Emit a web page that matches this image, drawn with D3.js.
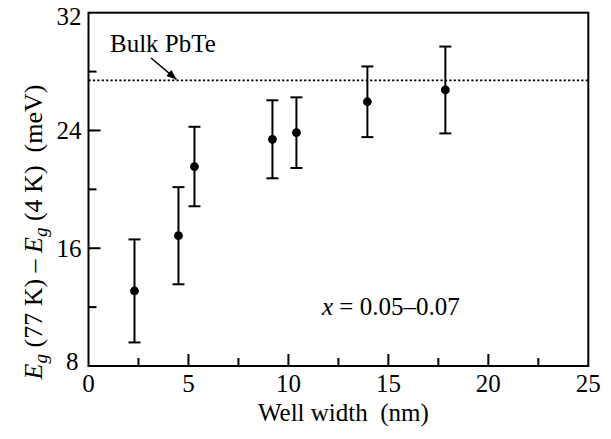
<!DOCTYPE html>
<html>
<head>
<meta charset="UTF-8">
<script src="https://cdn.jsdelivr.net/npm/d3@7/dist/d3.min.js"></script>
<style>
body{
  margin:0;
  background-color:#fff;
}
</style>
</head>
<body>
<script>
// well width (nm) vs Eg(77K) - Eg(4K) (meV), with error bars
var wellWidth = [2.3, 4.5, 5.3, 9.2, 10.4, 13.95, 17.85]
var gapShift  = [13.1, 16.85, 21.55, 23.4, 23.85, 25.95, 26.75]
var gapErr    = [3.5, 3.3, 2.7, 2.65, 2.4, 2.4, 2.95]

var bulkPbTe = 27.4

var xTicks = [0, 5, 10, 15, 20, 25]
var xMinor = [2.5, 7.5, 12.5, 17.5, 22.5]
var yTicks = [8, 16, 24, 32]
var yMinor = [12, 20, 28]

var width = 611
var height = 439
var margin = {left: 88.5, right: 22.7, top: 12.7, bottom: 73}

// pick a Times-like face that is really installed
var ctx = document.createElement('canvas').getContext('2d')
function hasFont(name){
  var s = 'Bulk PbTe 0123456789 mwWi'
  ctx.font = '40px monospace'
  var a = ctx.measureText(s).width
  ctx.font = '40px "' + name + '", monospace'
  return ctx.measureText(s).width != a
}
var candidates = ['Liberation Serif', 'Tinos', 'Times New Roman', 'Nimbus Roman', 'FreeSerif', 'Noto Serif', 'DejaVu Serif']
var serifName = candidates.find(hasFont) || 'DejaVu Serif'
var serif = '"' + serifName + '", serif'

var x = d3.scaleLinear().domain([0, 25]).range([margin.left, width - margin.right])
var y = d3.scaleLinear().domain([8, 32]).range([height - margin.bottom, margin.top])

var svg = d3.select('body')
    .append('svg')
    .attr('width', width)
    .attr('height', height)
    .attr('font-family', serif)

svg.append('defs').append('marker')
    .attr('id', 'arrow')
    .attr('viewBox', '0 0 10 10')
    .attr('refX', 10)
    .attr('refY', 5)
    .attr('markerWidth', 10)
    .attr('markerHeight', 10)
    .attr('markerUnits', 'userSpaceOnUse')
    .attr('orient', 'auto')
  .append('path')
    .attr('d', 'M0,1 L10,5 L0,9 Z')
    .attr('fill', '#000')

// bulk line
svg.append('line')
    .attr('x1', x(0))
    .attr('x2', x(25))
    .attr('y1', y(bulkPbTe))
    .attr('y2', y(bulkPbTe))
    .attr('stroke', '#000')
    .attr('stroke-width', 1.8)
    .attr('stroke-dasharray', '2.2,2.2')

// inward ticks
svg.selectAll('.xt')
  .data(xTicks.slice(1, -1).map(d => [d, 12]).concat(xMinor.map(d => [d, 8])))
  .enter().append('line')
    .attr('x1', d => x(d[0]))
    .attr('x2', d => x(d[0]))
    .attr('y1', y(8))
    .attr('y2', d => y(8) - d[1])
    .attr('stroke', '#000')
    .attr('stroke-width', 2)

svg.selectAll('.yt')
  .data(yTicks.slice(1, -1).map(d => [d, 12]).concat(yMinor.map(d => [d, 8])))
  .enter().append('line')
    .attr('x1', x(0))
    .attr('x2', d => x(0) + d[1])
    .attr('y1', d => y(d[0]))
    .attr('y2', d => y(d[0]))
    .attr('stroke', '#000')
    .attr('stroke-width', 2)

// frame
svg.append('rect')
    .attr('x', x(0))
    .attr('y', y(32))
    .attr('width', x(25) - x(0))
    .attr('height', y(8) - y(32))
    .attr('fill', 'none')
    .attr('stroke', '#000')
    .attr('stroke-width', 2)

// tick labels
svg.selectAll('.xl')
  .data(xTicks)
  .enter().append('text')
    .attr('x', d => x(d))
    .attr('y', y(8) + 26)
    .attr('text-anchor', 'middle')
    .attr('font-size', 25)
    .text(d => d)

svg.selectAll('.yl')
  .data(yTicks)
  .enter().append('text')
    .attr('x', d => d == 8 ? x(0) - 10 : x(0) - 7)
    .attr('y', d => y(d) + (d == 8 ? 4 : d == 32 ? 12 : 9))
    .attr('text-anchor', 'end')
    .attr('font-size', 25)
    .text(d => d)

// axis titles
svg.append('text')
    .attr('x', x(12.5) + 5)
    .attr('y', 421)
    .attr('text-anchor', 'middle')
    .attr('font-size', 25)
    .attr('xml:space', 'preserve')
    .text('Well width  (nm)')

var ylab = svg.append('text')
    .attr('transform', 'translate(42,' + 232 + ') rotate(-90)')
    .attr('text-anchor', 'middle')
    .attr('font-size', 26)
    .attr('xml:space', 'preserve')
ylab.append('tspan').attr('font-style', 'italic').text('E')
ylab.append('tspan').attr('font-style', 'italic').attr('font-size', 19).attr('dy', 5).text('g')
ylab.append('tspan').attr('dy', -5).text(' (77 K) \u2013 ')
ylab.append('tspan').attr('font-style', 'italic').text('E')
ylab.append('tspan').attr('font-style', 'italic').attr('font-size', 19).attr('dy', 5).text('g')
ylab.append('tspan').attr('dy', -5).text(' (4 K)  (meV)')

// error bars
var pts = wellWidth.map((d, i) => ({w: d, v: gapShift[i], e: gapErr[i]}))

svg.selectAll('.bar')
  .data(pts)
  .enter().append('line')
    .attr('x1', d => x(d.w))
    .attr('x2', d => x(d.w))
    .attr('y1', d => y(d.v - d.e))
    .attr('y2', d => y(d.v + d.e))
    .attr('stroke', '#000')
    .attr('stroke-width', 2)

svg.selectAll('.cap')
  .data(pts.map(d => [d.w, d.v + d.e]).concat(pts.map(d => [d.w, d.v - d.e])))
  .enter().append('line')
    .attr('x1', d => x(d[0]) - 6)
    .attr('x2', d => x(d[0]) + 6)
    .attr('y1', d => y(d[1]))
    .attr('y2', d => y(d[1]))
    .attr('stroke', '#000')
    .attr('stroke-width', 2)

svg.selectAll('.dot')
  .data(pts)
  .enter().append('circle')
    .attr('cx', d => x(d.w))
    .attr('cy', d => y(d.v))
    .attr('r', 4.4)
    .attr('fill', '#000')

// annotations
svg.append('text')
    .attr('x', 110)
    .attr('y', 52)
    .attr('font-size', 25)
    .text('Bulk PbTe')

svg.append('line')
    .attr('x1', 151)
    .attr('y1', 58)
    .attr('x2', x(4.4))
    .attr('y2', y(bulkPbTe) - 1)
    .attr('stroke', '#000')
    .attr('stroke-width', 1.5)
    .attr('marker-end', 'url(#arrow)')

var note = svg.append('text')
    .attr('x', 322)
    .attr('y', 315)
    .attr('font-size', 25)
    .attr('xml:space', 'preserve')
note.append('tspan').attr('font-style', 'italic').text('x')
note.append('tspan').text(' = 0.05\u20130.07')
</script>
</body>
</html>
